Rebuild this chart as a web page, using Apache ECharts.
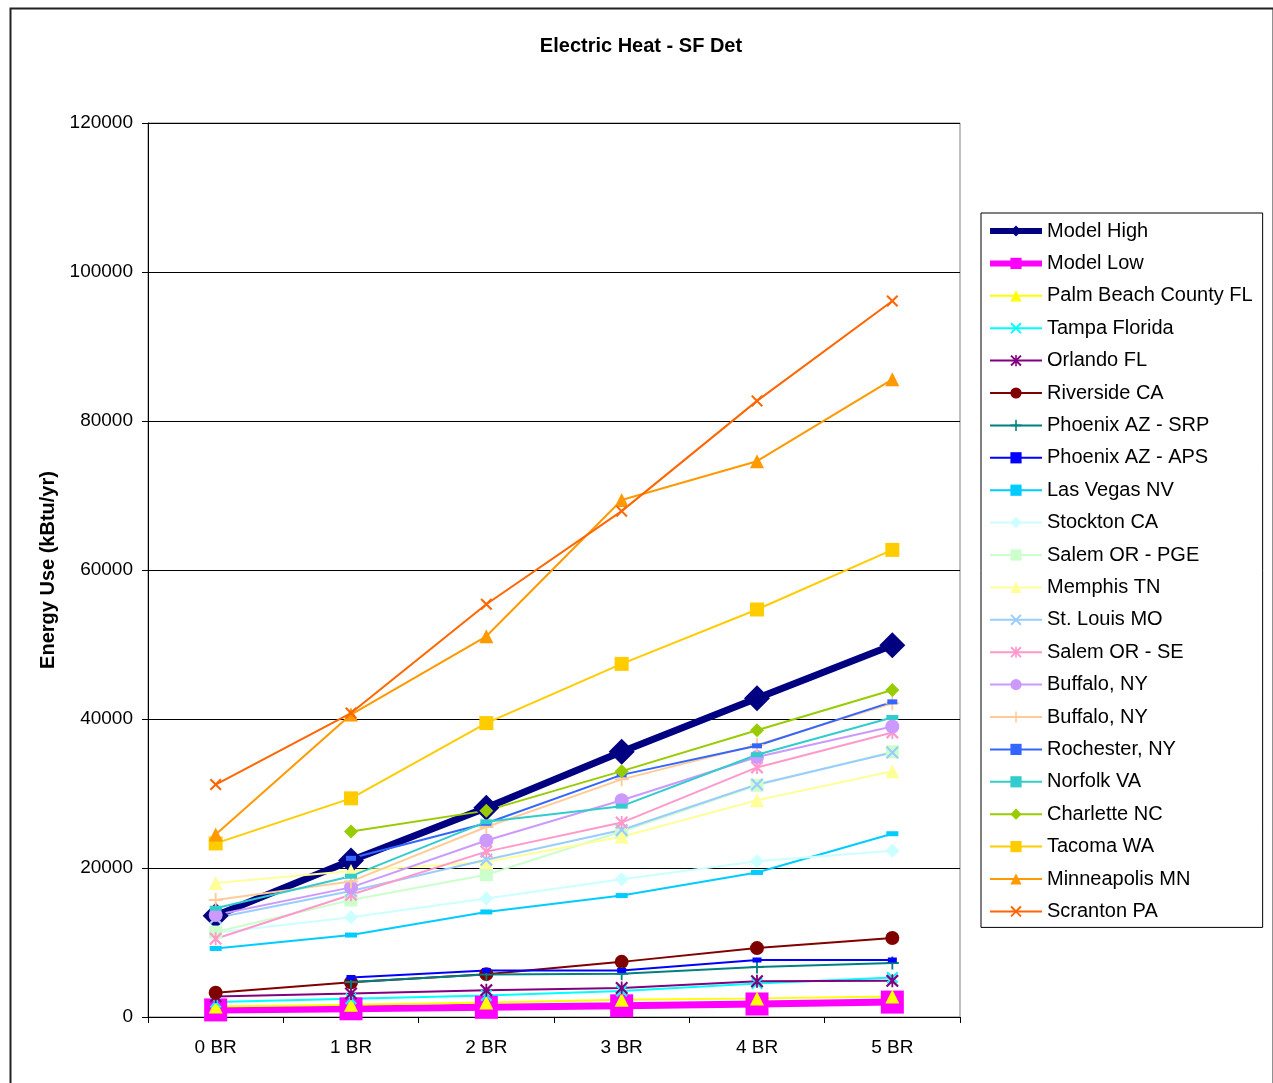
<!DOCTYPE html>
<html>
<head>
<meta charset="utf-8">
<script src="https://cdn.jsdelivr.net/npm/echarts@6/dist/echarts.min.js"></script>
<style>
html,body{margin:0;padding:0;background:#fff;}
#chart{width:1273px;height:1083px;}
</style>
</head>
<body>
<div id="chart"></div>
<script>
var categories = ['0 BR', '1 BR', '2 BR', '3 BR', '4 BR', '5 BR'];

var modelHigh   = [13600, 21000, 28100, 35600, 42800, 49900];
var modelLow    = [950, 1100, 1300, 1500, 1750, 2000];
var palmBeach   = [1400, 1650, 1950, 2300, 2500, 2750];
var tampa       = [2000, 2450, 2900, 3500, 4500, 5300];
var orlando     = [2750, 3150, 3600, 3900, 4800, 4850];
var riverside   = [3250, 4650, 5750, 7400, 9250, 10600];
var phoenixSRP  = [null, 4700, 5700, 5800, 6700, 7250];
var phoenixAPS  = [null, 5300, 6250, 6250, 7650, 7650];
var lasVegas    = [9200, 11000, 14100, 16300, 19400, 24600];
var stockton    = [11300, 13400, 15900, 18500, 20900, 22300];
var salemPGE    = [11400, 15700, 19100, 24900, 31100, 35600];
var memphis     = [18000, 19600, 20800, 24200, 29100, 33000];
var stLouis     = [13300, 16900, 21100, 25100, 31200, 35500];
var salemSE     = [10500, 16400, 22200, 26100, 33500, 38200];
var buffalo1    = [13700, 17400, 23700, 29100, 34900, 39000];
var buffalo2    = [15700, 18200, 25500, 31900, 36500, 42100];
var rochester   = [null, 21300, 26000, 32500, 36400, 42300];
var norfolk     = [14600, 18900, 26200, 28300, 35200, 40200];
var charlette   = [null, 24900, 27700, 33000, 38500, 43900];
var tacoma      = [23300, 29350, 39450, 47400, 54700, 62700];
var minneapolis = [24500, 40600, 51100, 69400, 74600, 85600];
var scranton    = [31200, 40800, 55400, 67900, 82700, 96100];

var yTicks = [0, 20000, 40000, 60000, 80000, 100000, 120000];

var X_PATH = 'path://M0,1.2 L1.2,0 L5,3.8 L8.8,0 L10,1.2 L6.2,5 L10,8.8 L8.8,10 L5,6.2 L1.2,10 L0,8.8 L3.8,5 Z';
var PLUS_PATH = 'path://M4.3,0 H5.7 V4.3 H10 V5.7 H5.7 V10 H4.3 V5.7 H0 V4.3 H4.3 Z';
var STAR_PATH = 'path://M0,1.2 L1.2,0 L5,3.8 L8.8,0 L10,1.2 L6.2,5 L10,8.8 L8.8,10 L5,6.2 L1.2,10 L0,8.8 L3.8,5 Z M4.3,0 H5.7 V10 H4.3 Z';

function s(name, data, color, symbol, size, width) {
  return {
    name: name, type: 'line', data: data,
    symbol: symbol, symbolSize: size, showAllSymbol: true,
    connectNulls: false,
    lineStyle: { color: color, width: width || 2 },
    itemStyle: { color: color, borderWidth: 0 },
    emphasis: { disabled: true }
  };
}

var series = [
  s('Model High', modelHigh, '#000080', 'diamond', 26, 7),
  s('Model Low', modelLow, '#FF00FF', 'rect', 23, 7),
  s('Palm Beach County FL', palmBeach, '#FFFF00', 'triangle', 14),
  s('Tampa Florida', tampa, '#00FFFF', X_PATH, 12),
  s('Orlando FL', orlando, '#800080', STAR_PATH, 13),
  s('Riverside CA', riverside, '#800000', 'circle', 14),
  s('Phoenix AZ - SRP', phoenixSRP, '#008080', PLUS_PATH, 13),
  s('Phoenix AZ - APS', phoenixAPS, '#0000FF', 'rect', [9, 5]),
  s('Las Vegas NV', lasVegas, '#00CCFF', 'rect', [12, 5]),
  s('Stockton CA', stockton, '#CCFFFF', 'diamond', 14),
  s('Salem OR - PGE', salemPGE, '#CCFFCC', 'rect', 13),
  s('Memphis TN', memphis, '#FFFF99', 'triangle', 14),
  s('St. Louis MO', stLouis, '#99CCFF', X_PATH, 13),
  s('Salem OR - SE', salemSE, '#FF99CC', STAR_PATH, 13),
  s('Buffalo, NY', buffalo1, '#CC99FF', 'circle', 14),
  s('Buffalo, NY ', buffalo2, '#FFCC99', PLUS_PATH, 14),
  s('Rochester, NY', rochester, '#3366FF', 'rect', [10, 5]),
  s('Norfolk VA', norfolk, '#33CCCC', 'rect', [12, 5]),
  s('Charlette NC', charlette, '#99CC00', 'diamond', 14),
  s('Tacoma WA', tacoma, '#FFCC00', 'rect', 14),
  s('Minneapolis MN', minneapolis, '#FF9900', 'triangle', 14),
  s('Scranton PA', scranton, '#FF6600', X_PATH, 12)
];

var legendData = series.map(function (x) {
  return { name: x.name, lineStyle: { width: x.lineStyle.width === 7 ? 6 : 2 } };
});

var chart = echarts.init(document.getElementById('chart'), null, { renderer: 'canvas' });
chart.setOption({
  animation: false,
  backgroundColor: '#fff',
  textStyle: { fontFamily: 'Liberation Sans, Arial, sans-serif' },
  title: {
    text: 'Electric Heat - SF Det',
    left: 641, textAlign: 'center', top: 36, padding: 0,
    textStyle: { fontSize: 20, fontWeight: 'bold', color: '#000', fontFamily: 'Liberation Sans, Arial, sans-serif' }
  },
  grid: {
    left: 148, top: 123, right: 313, bottom: 66,
    show: true, borderColor: '#808080', borderWidth: 1, backgroundColor: '#fff'
  },
  legend: {
    orient: 'vertical',
    left: 981, top: 213,
    padding: [8, 10, 6, 6],
    backgroundColor: '#fff',
    borderColor: '#000', borderWidth: 1,
    itemWidth: 52, itemHeight: 14, itemGap: 12.4,
    textStyle: { fontSize: 20, color: '#000', lineHeight: 20, fontFamily: 'Liberation Sans, Arial, sans-serif' },
    data: legendData
  },
  xAxis: {
    type: 'category', data: categories, boundaryGap: true,
    axisLine: { lineStyle: { color: '#000', width: 1 } },
    axisTick: { show: true, length: 6, lineStyle: { color: '#000' }, alignWithLabel: false },
    axisLabel: { fontSize: 19, color: '#000', margin: 21 },
    splitLine: { show: false }
  },
  yAxis: {
    type: 'value', min: yTicks[0], max: yTicks[yTicks.length - 1], interval: yTicks[1] - yTicks[0],
    name: 'Energy Use (kBtu/yr)', nameLocation: 'middle', nameGap: 88, nameRotate: 90,
    nameTextStyle: { fontSize: 20, fontWeight: 'bold', color: '#000' },
    axisLine: { show: true, lineStyle: { color: '#000', width: 1 } },
    axisTick: { show: true, length: 6, lineStyle: { color: '#000' } },
    axisLabel: { fontSize: 19, color: '#000', margin: 15, formatter: function (v) { return String(v); } },
    splitLine: { show: true, lineStyle: { color: '#000', width: 1 } }
  },
  graphic: [{
    type: 'rect', left: 8, top: 6, z: -10, silent: true,
    shape: { x: 0, y: 0, width: 1263, height: 1100 },
    style: { fill: 'none', stroke: '#222', lineWidth: 2 }
  }],
  series: series
});
</script>
</body>
</html>
